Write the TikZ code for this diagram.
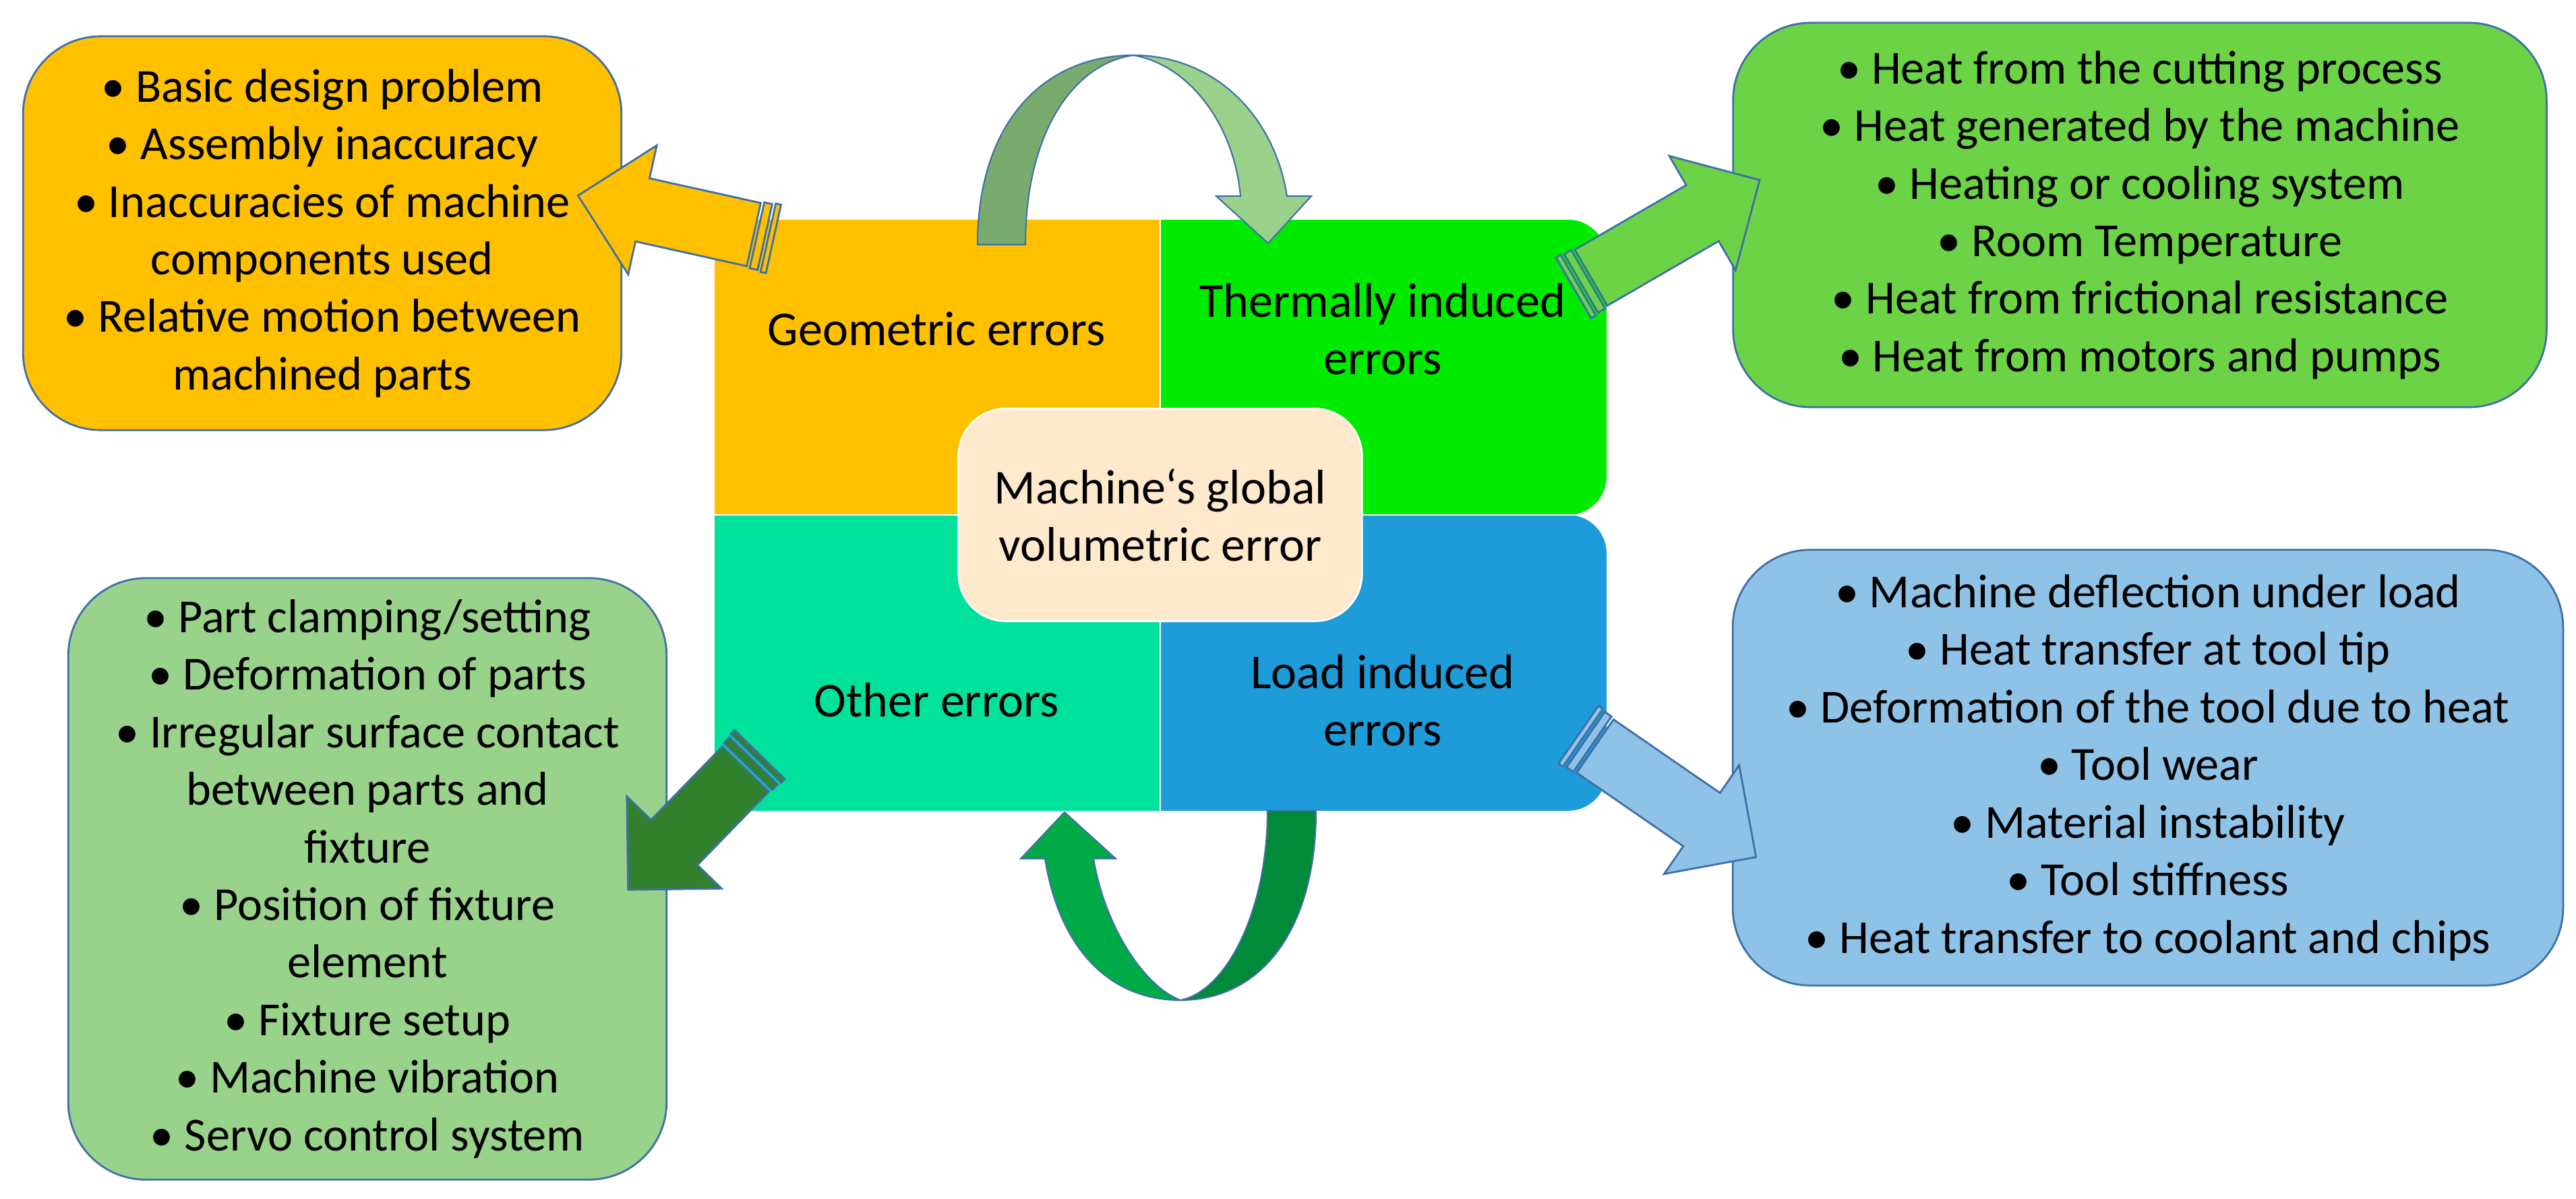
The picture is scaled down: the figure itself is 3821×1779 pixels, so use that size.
\documentclass[tikz,border=0pt]{standalone}
\usepackage{fontspec}
\setmainfont{Carlito}
\definecolor{cYel}{HTML}{FFC000}
\definecolor{cGrn}{HTML}{00EB00}
\definecolor{cTeal}{HTML}{00E19C}
\definecolor{cBlue}{HTML}{1E9BD9}
\definecolor{cCore}{HTML}{FEE9CC}
\definecolor{bGrn}{HTML}{6DD346}
\definecolor{bLGrn}{HTML}{99D28A}
\definecolor{bBlue}{HTML}{8EC3E7}
\definecolor{aDark}{HTML}{31802B}
\definecolor{edge}{HTML}{3F6FA8}
\definecolor{arcA}{HTML}{7AAB6E}
\definecolor{arcB}{HTML}{9AD18B}
\definecolor{arcC}{HTML}{00AB47}
\definecolor{arcD}{HTML}{008A3A}
\newcommand{\barrow}[5]{%
 \begin{scope}[shift={(#1,#2)},rotate=#3]
  \filldraw[fill=#5,draw=edge,line width=0.8pt] (0,-48) -- (#4-98,-48) -- (#4-98,-98) -- (#4,0) -- (#4-98,98) -- (#4-98,48) -- (0,48) -- cycle;
  \filldraw[fill=#5,draw=edge,line width=0.8pt] (-17,-50) rectangle (-5,50);
  \filldraw[fill=#5,draw=edge,line width=0.8pt] (-30,-52) rectangle (-22,52);
 \end{scope}}
\tikzset{
 box/.style={draw=edge,line width=0.8pt,rounded corners=1.15cm,align=center,
   font=\fontsize{20}{24.3}\selectfont,inner sep=0pt},
 lab/.style={align=center,font=\fontsize{20.5}{24.3}\selectfont}
}
\begin{document}
\begin{tikzpicture}[x=0.01cm,y=-0.01cm]
\useasboundingbox (0,0) rectangle (3821,1779);
% main block
\fill[cGrn,rounded corners=0.57cm] (1721,326) rectangle (2383,764);
\fill[cGrn] (1721,326) rectangle (2200,764);
\fill[cBlue,rounded corners=0.57cm] (1721,764) rectangle (2383,1203);
\fill[cBlue] (1721,764) rectangle (2200,1203);
\fill[cYel] (1060,326) rectangle (1721,764);
\fill[cTeal] (1060,764) rectangle (1721,1203);
\draw[white,line width=0.6pt] (1060,764) -- (2383,764) (1721,326) -- (1721,1203);
\node[lab] (geo) at (1389,488) {Geometric errors};
\node[lab] (thm) at (2051,488) {Thermally induced\\errors};
\node[lab] (oth) at (1389,1039) {Other errors};
\node[lab] (lod) at (2051,1039) {Load induced\\errors};
\node[lab,fill=cCore,draw=white,line width=0.8pt,rounded corners=0.7cm,minimum width=5.98cm,minimum height=3.15cm] (core) at (1721,764) {Machine`s global\\volumetric error};
% boxes
\node[box,fill=cYel,minimum width=8.87cm,minimum height=5.84cm] (ybox) at (478,346)
 {• Basic design problem\\• Assembly inaccuracy\\• Inaccuracies of machine\\components used\\• Relative motion between\\machined parts};
\node[box,fill=bGrn,minimum width=12.06cm,minimum height=5.70cm] (gbox) at (3174,319)
 {• Heat from the cutting process\\• Heat generated by the machine\\• Heating or cooling system\\• Room Temperature\\• Heat from frictional resistance\\• Heat from motors and pumps};
\node[box,fill=bLGrn,minimum width=8.87cm,minimum height=8.92cm] (lbox) at (545,1304)
 {• Part clamping/setting\\• Deformation of parts\\• Irregular surface contact\\between parts and\\fixture\\• Position of fixture\\element\\• Fixture setup\\• Machine vibration\\• Servo control system};
\node[box,fill=bBlue,minimum width=12.31cm,minimum height=6.46cm] (bbox) at (3186,1139)
 {• Machine deflection under load\\• Heat transfer at tool tip\\• Deformation of the tool due to heat\\• Tool wear\\• Material instability\\• Tool stiffness\\• Heat transfer to coolant and chips};
% block arrows
\barrow{1118}{348}{167.5}{267}{cYel}
\barrow{2360}{412}{30.1}{289}{bGrn}
\barrow{2366}{1107}{-34.6}{290}{bBlue}
\barrow{1106}{1141}{-134.2}{250}{aDark}
% top circular arrow
\filldraw[fill=arcA,draw=edge,line width=0.6pt] (1450,363) .. controls (1450,180) and (1550,82) .. (1681,82)
  .. controls (1590,95) and (1521,200) .. (1521,363) -- cycle;
\filldraw[fill=arcB,draw=edge,line width=0.6pt] (1681,82) .. controls (1800,82) and (1890,170) .. (1909,291)
  -- (1945,291) -- (1881,361) -- (1804,291) -- (1840,291) .. controls (1830,180) and (1760,95) .. (1681,82) -- cycle;
% bottom circular arrow
\filldraw[fill=arcD,draw=edge,line width=0.6pt] (1952,1203) .. controls (1952,1380) and (1870,1484) .. (1751,1484)
  .. controls (1820,1470) and (1880,1350) .. (1880,1203) -- cycle;
\filldraw[fill=arcC,draw=edge,line width=0.6pt] (1751,1484) .. controls (1640,1484) and (1570,1400) .. (1550,1274)
  -- (1514,1274) -- (1579,1205) -- (1655,1274) -- (1622,1274) .. controls (1640,1380) and (1700,1465) .. (1751,1484) -- cycle;
\end{tikzpicture}
\end{document}
